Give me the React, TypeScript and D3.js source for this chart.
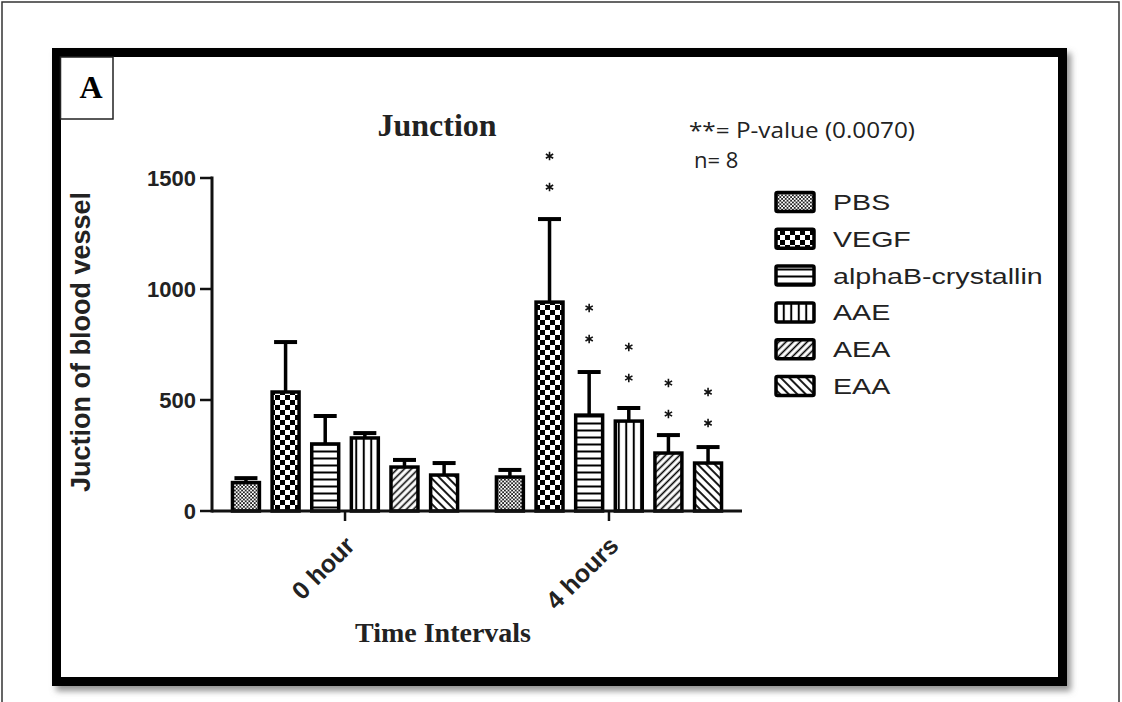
import React from "react";
import * as d3 from "d3";

const groups = ["0 hour", "4 hours"];
const series = ["PBS", "VEGF", "alphaB-crystallin", "AAE", "AEA", "EAA"];
const patternIds = ["pPBS", "pVEGF", "pHoriz", "pVert", "pFwd", "pBack"];
const means0h = [128, 536, 302, 329, 198, 162];
const means4h = [153, 941, 432, 405, 261, 216];
const sem0h = [20, 225, 126, 22, 32, 54];
const sem4h = [32, 374, 194, 59, 81, 72];
// value of the lower asterisk of the "**" marks (null = none)
const stars0h: (number | null)[] = [null, null, null, null, null, null];
const stars4h: (number | null)[] = [null, 1459, 775, 599, 437, 396];
const yTicks = [0, 500, 1000, 1500];

const W = 1122;
const H = 702;

export default function App() {
  const y = d3.scaleLinear().domain([0, 1500]).range([511, 178]);
  const axisLeft = 212;
  const axisRight = 742;
  const gx = d3.scaleBand().domain(groups).range([axisLeft, axisRight]).paddingInner(0).paddingOuter(0.004);
  const bx = d3.scaleBand().domain(series).range([0, gx.bandwidth()]).paddingInner(0.32).paddingOuter(0.49);
  const means = [means0h, means4h];
  const sems = [sem0h, sem4h];
  const stars = [stars0h, stars4h];
  const star = d3.symbol(d3.symbolAsterisk, 50)() as string;
  const legendY = d3.scalePoint().domain(series).range([202, 386]);

  return (
    <svg width={W} height={H} style={{ position: "absolute", left: 0, top: 0 }}>
      <defs>
        <pattern id="pPBS" patternUnits="userSpaceOnUse" width="3.6" height="3.6">
          <rect width="3.6" height="3.6" fill="#fff" />
          <rect x="0" y="0" width="1.8" height="1.8" fill="#222" />
          <rect x="1.8" y="1.8" width="1.8" height="1.8" fill="#222" />
        </pattern>
        <pattern id="pVEGF" patternUnits="userSpaceOnUse" width="10" height="10">
          <rect width="10" height="10" fill="#fff" />
          <rect x="0" y="0" width="5" height="5" fill="#000" />
          <rect x="5" y="5" width="5" height="5" fill="#000" />
        </pattern>
        <pattern id="pHoriz" patternUnits="userSpaceOnUse" width="7" height="7">
          <rect width="7" height="7" fill="#fff" />
          <line x1="0" x2="7" y1="3.5" y2="3.5" stroke="#000" strokeWidth="2" />
        </pattern>
        <pattern id="pVert" patternUnits="userSpaceOnUse" width="7.5" height="7">
          <rect width="7.5" height="7" fill="#fff" />
          <line x1="3.75" x2="3.75" y1="0" y2="7" stroke="#000" strokeWidth="2" />
        </pattern>
        <pattern id="pFwd" patternUnits="userSpaceOnUse" width="5" height="5" patternTransform="rotate(45)">
          <rect width="5" height="5" fill="#fff" />
          <line x1="2.5" x2="2.5" y1="0" y2="5" stroke="#000" strokeWidth="1.6" />
        </pattern>
        <pattern id="pBack" patternUnits="userSpaceOnUse" width="6" height="6" patternTransform="rotate(-45)">
          <rect width="6" height="6" fill="#fff" />
          <line x1="3" x2="3" y1="0" y2="6" stroke="#000" strokeWidth="1.8" />
        </pattern>
        <filter id="shadow" x="-5%" y="-5%" width="110%" height="110%">
          <feDropShadow dx="4" dy="5" stdDeviation="3" floodColor="#777" floodOpacity="0.8" />
        </filter>
      </defs>

      <rect x={0} y={0} width={W} height={H} fill="#fff" />
      <rect x={2} y={2} width={1117} height={710} fill="none" stroke="#333" strokeWidth={1.5} />
      <rect x={56.5} y={52.5} width={1006} height={629} fill="#fff" stroke="#000" strokeWidth={9} filter="url(#shadow)" />

      <rect x={60.5} y={57} width={52.5} height={62} fill="#fff" stroke="#222" strokeWidth={1.5} />
      <text x={91} y={98} textAnchor="middle" fontFamily="'Liberation Serif', serif" fontWeight="bold" fontSize={32}>A</text>

      <text x={437} y={136} textAnchor="middle" fontFamily="'Liberation Serif', serif" fontWeight="bold" fontSize={32} fill="#222">Junction</text>
      <text x={689} y={138} fontFamily="'Open Sans', sans-serif" fontSize={22} textLength={226} lengthAdjust="spacingAndGlyphs" fill="#222">**= P-value (0.0070)</text>
      <text x={694} y={168} fontFamily="'Open Sans', sans-serif" fontSize={22} fill="#222">n= 8</text>

      {groups.map((g, gi) => (
        <g key={g}>
          {series.map((s, si) => {
            const x0 = (gx(g) as number) + (bx(s) as number);
            const bw = bx.bandwidth();
            const cx = x0 + bw / 2;
            const m = means[gi][si];
            const e = sems[gi][si];
            const st = stars[gi][si];
            return (
              <g key={s}>
                <line x1={cx} x2={cx} y1={y(m)} y2={y(m + e)} stroke="#000" strokeWidth={3.5} />
                <line x1={cx - 11.5} x2={cx + 11.5} y1={y(m + e)} y2={y(m + e)} stroke="#000" strokeWidth={4} />
                <rect x={x0} y={y(m)} width={bw} height={y(0) - y(m)} fill={`url(#${patternIds[si]})`} stroke="#000" strokeWidth={3.5} />
                {st !== null && (
                  <g>
                    <path d={star} transform={`translate(${cx},${y(st)})`} fill="none" stroke="#111" strokeWidth={1.6} />
                    <path d={star} transform={`translate(${cx},${y(st) - 31})`} fill="none" stroke="#111" strokeWidth={1.6} />
                  </g>
                )}
              </g>
            );
          })}
        </g>
      ))}

      {/* Y axis */}
      <line x1={axisLeft} x2={axisLeft} y1={y(1500) - 1.5} y2={y(0) + 1.5} stroke="#111" strokeWidth={3} />
      {yTicks.map((t) => (
        <g key={t}>
          <line x1={axisLeft - 12} x2={axisLeft} y1={y(t)} y2={y(t)} stroke="#111" strokeWidth={2.5} />
          <text x={axisLeft - 16} y={y(t)} dy="0.36em" textAnchor="end" fontFamily="'Liberation Sans', Arial, sans-serif" fontWeight="bold" fontSize={22} fill="#222">{t}</text>
        </g>
      ))}
      <text transform={`translate(90,342) rotate(-90)`} textAnchor="middle" fontFamily="'Liberation Sans', Arial, sans-serif" fontWeight="bold" fontSize={27} fill="#222">Juction of blood vessel</text>

      {/* X axis */}
      <line x1={axisLeft} x2={axisRight} y1={y(0)} y2={y(0)} stroke="#111" strokeWidth={3} />
      {groups.map((g) => {
        const cx = (gx(g) as number) + gx.bandwidth() / 2;
        return (
          <g key={g}>
            <line x1={cx} x2={cx} y1={y(0)} y2={y(0) + 10} stroke="#111" strokeWidth={2.5} />
            <text transform={`translate(${cx + 5},${y(0) + 30}) rotate(-45)`} dy="0.35em" textAnchor="end" fontFamily="'Liberation Sans', Arial, sans-serif" fontWeight="bold" fontSize={25} fill="#222">{g}</text>
          </g>
        );
      })}
      <text x={443} y={642} textAnchor="middle" fontFamily="'Liberation Serif', serif" fontWeight="bold" fontSize={28} fill="#222">Time Intervals</text>

      {/* Legend */}
      {series.map((s, si) => {
        const ly = legendY(s) as number;
        return (
          <g key={s}>
            <rect x={776} y={ly - 9.5} width={38} height={19} fill={`url(#${patternIds[si]})`} stroke="#000" strokeWidth={3.5} rx={1.5} />
            <text transform={`translate(833,${ly}) scale(1.3,1)`} dy="0.36em" fontFamily="'Liberation Sans', Arial, sans-serif" fontSize={22} fill="#222">{s}</text>
          </g>
        );
      })}
    </svg>
  );
}
